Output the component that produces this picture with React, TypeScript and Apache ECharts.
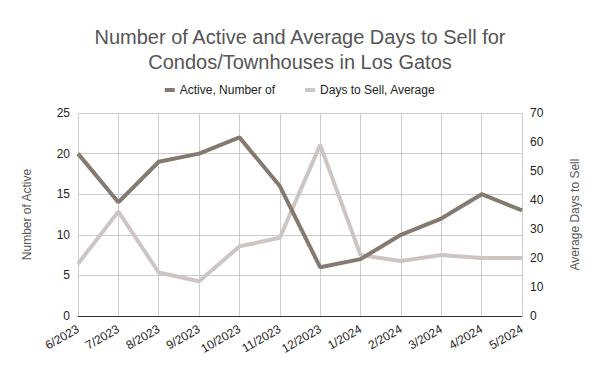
import React, { useEffect, useRef } from "react";
import * as echarts from "echarts";

const categories = ["6/2023", "7/2023", "8/2023", "9/2023", "10/2023", "11/2023", "12/2023", "1/2024", "2/2024", "3/2024", "4/2024", "5/2024"];
const activeNumber = [20, 14, 19, 20, 22, 16, 6, 7, 10, 12, 15, 13];
const daysToSell = [18, 36, 15, 12, 24, 27, 59, 21, 19, 21, 20, 20];
const titleText = "Number of Active and Average Days to Sell for\nCondos/Townhouses in Los Gatos";

export default function App() {
  const ref = useRef<HTMLDivElement>(null);
  useEffect(() => {
    const chart = echarts.init(ref.current!, undefined, { renderer: "svg" });
    const font = "'Liberation Sans', Arial, sans-serif";
    chart.setOption({
      animation: false,
      textStyle: { fontFamily: font },
      title: {
        text: titleText,
        left: "center",
        top: 19,
        textStyle: { fontSize: 20, fontWeight: "normal", color: "#555555", lineHeight: 25, fontFamily: font },
      },
      legend: {
        top: 79,
        left: "center",
        itemWidth: 10,
        itemHeight: 4,
        itemGap: 30,
        icon: "rect",
        textStyle: { fontSize: 12, color: "#222222", fontFamily: font },
        data: ["Active, Number of", "Days to Sell, Average"],
      },
      grid: { left: 78, right: 78, top: 113, bottom: 55, containLabel: false },
      xAxis: {
        type: "category",
        data: categories,
        boundaryGap: false,
        axisLine: { lineStyle: { color: "#333333", width: 1 } },
        axisTick: { show: false },
        splitLine: { show: true, lineStyle: { color: "#cccccc" } },
        axisLabel: { rotate: 30, color: "#222222", fontSize: 12, margin: 12, interval: 0, fontFamily: font },
      },
      yAxis: [
        {
          type: "value",
          min: 0,
          max: 25,
          interval: 5,
          name: "Number of Active",
          nameLocation: "middle",
          nameGap: 45,
          nameTextStyle: { color: "#555555", fontSize: 12, fontFamily: font },
          axisLine: { show: false },
          axisTick: { show: false },
          axisLabel: { color: "#222222", fontSize: 12, margin: 8, fontFamily: font },
          splitLine: { show: true, lineStyle: { color: "#cccccc" } },
        },
        {
          type: "value",
          min: 0,
          max: 70,
          interval: 10,
          name: "Average Days to Sell",
          nameLocation: "middle",
          nameGap: 47,
          nameTextStyle: { color: "#555555", fontSize: 12, fontFamily: font },
          axisLine: { show: false },
          axisTick: { show: false },
          axisLabel: { color: "#222222", fontSize: 12, margin: 8, fontFamily: font },
          splitLine: { show: false },
        },
      ],
      series: [
        {
          name: "Active, Number of",
          type: "line",
          yAxisIndex: 0,
          data: activeNumber,
          symbol: "none",
          lineStyle: { width: 4, color: "#857a70" },
          itemStyle: { color: "#857a70" },
          z: 3,
        },
        {
          name: "Days to Sell, Average",
          type: "line",
          yAxisIndex: 1,
          data: daysToSell,
          symbol: "none",
          lineStyle: { width: 4, color: "#cdc5c2" },
          itemStyle: { color: "#cdc5c2" },
          z: 2,
        },
      ],
    });
    return () => chart.dispose();
  }, []);
  return <div ref={ref} style={{ width: 600, height: 371, position: "absolute", left: 0, top: 0 }} />;
}
